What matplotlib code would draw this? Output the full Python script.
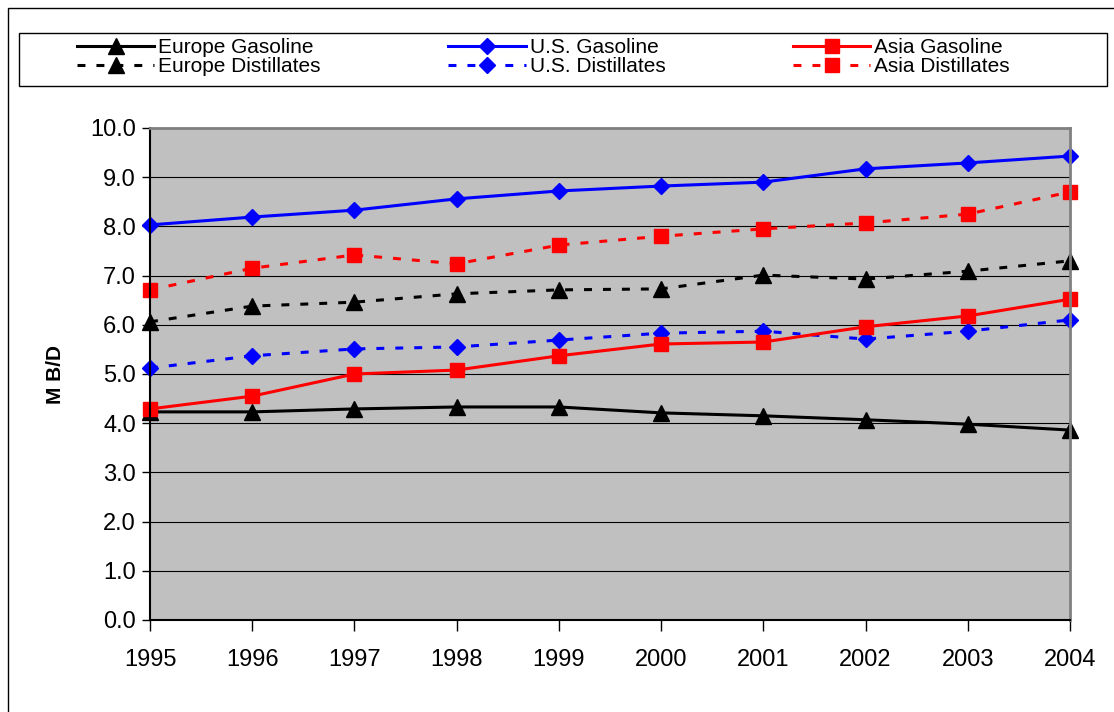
import matplotlib
matplotlib.use("Agg")
import matplotlib.pyplot as plt
from matplotlib.patches import Rectangle

plt.rcParams['font.family'] = ['Liberation Sans', 'DejaVu Sans']

years = ['1995', '1996', '1997', '1998', '1999', '2000', '2001', '2002', '2003', '2004']
europe_gasoline = [4.23, 4.23, 4.29, 4.33, 4.33, 4.21, 4.15, 4.07, 3.98, 3.86]
europe_distillates = [6.06, 6.38, 6.46, 6.63, 6.71, 6.73, 7.01, 6.93, 7.09, 7.30]
us_gasoline = [8.03, 8.19, 8.33, 8.56, 8.72, 8.82, 8.90, 9.17, 9.29, 9.43]
us_distillates = [5.12, 5.37, 5.51, 5.55, 5.69, 5.83, 5.87, 5.71, 5.87, 6.10]
asia_gasoline = [4.29, 4.55, 5.00, 5.08, 5.37, 5.61, 5.65, 5.96, 6.18, 6.52]
asia_distillates = [6.71, 7.15, 7.42, 7.24, 7.62, 7.80, 7.95, 8.07, 8.25, 8.70]

W, H = 1114, 712
fig = plt.figure(figsize=(W / 100, H / 100), dpi=100)
# outer chart border
fig.patches.append(Rectangle((8 / W, -0.1), 1.2, (H - 8) / H + 0.1,
                             transform=fig.transFigure, fill=False,
                             edgecolor='black', linewidth=1))
# legend frame
fig.patches.append(Rectangle((19 / W, 1 - 86 / H), 1088 / W, 53 / H,
                             transform=fig.transFigure, fill=False,
                             edgecolor='black', linewidth=1))

ax = fig.add_axes([150 / W, 92 / H, 920 / W, 492 / H])
ax.set_facecolor('#C0C0C0')

x = range(len(years))
dash = (0, (2.6, 3.6))
lw = 2.2
h1, = ax.plot(x, europe_gasoline, color='black', lw=lw, marker='^', ms=11)
h2, = ax.plot(x, europe_distillates, color='black', lw=lw, ls=dash, marker='^', ms=11)
h3, = ax.plot(x, us_gasoline, color='blue', lw=lw, marker='D', ms=8.5)
h4, = ax.plot(x, us_distillates, color='blue', lw=lw, ls=dash, marker='D', ms=8.5)
h5, = ax.plot(x, asia_gasoline, color='red', lw=lw, marker='s', ms=10.5)
h6, = ax.plot(x, asia_distillates, color='red', lw=lw, ls=dash, marker='s', ms=10.5)

for line in [h1, h2, h3, h4, h5, h6]:
    line.set_clip_on(False)

ax.set_xlim(0, 9)
ax.set_ylim(0, 10)
ax.set_yticks([i for i in range(11)])
ax.set_yticklabels(['%.1f' % i for i in range(11)])
ax.set_xticks(list(x))
ax.set_xticklabels(years)
ax.yaxis.grid(True, color='black', lw=0.8)
ax.set_axisbelow(True)

ax.tick_params(axis='y', direction='out', length=6, width=1, labelsize=17, pad=4)
ax.tick_params(axis='x', direction='out', length=8, width=1, labelsize=17, pad=13)

ax.spines['top'].set_color('#808080')
ax.spines['right'].set_color('#808080')
ax.spines['top'].set_linewidth(2)
ax.spines['right'].set_linewidth(2)
ax.spines['left'].set_linewidth(1.5)
ax.spines['bottom'].set_linewidth(1.5)

ax.set_ylabel('M B/D', fontsize=15, fontweight='bold', labelpad=18)

leg = fig.legend([h1, h2, h3, h4, h5, h6],
                 ['Europe Gasoline', 'Europe Distillates', 'U.S. Gasoline',
                  'U.S. Distillates', 'Asia Gasoline', 'Asia Distillates'],
                 ncol=3, loc='upper left',
                 bbox_to_anchor=(77 / W, 1 - 88 / H, (1010 - 77) / W, 50 / H),
                 mode='expand', fontsize=15, frameon=False,
                 handlelength=3.7, handletextpad=0.2,
                 labelspacing=0.0, borderpad=0.0, borderaxespad=0)

fig.savefig('out.png', dpi=100)
